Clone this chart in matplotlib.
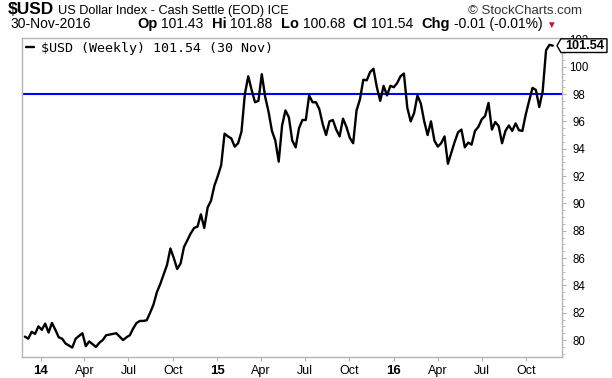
import numpy as np
import pandas as pd
import matplotlib
matplotlib.use("Agg")
import matplotlib.pyplot as plt
from matplotlib.patches import Polygon

# Weekly closes of $USD (Dec 2013 .. 30 Nov 2016)
usd_close = [
    80.25, 80.1, 80.6, 80.45, 81.0, 80.75, 81.2, 80.55, 81.25, 80.75,
    80.2, 80.1, 79.75, 79.6, 79.45, 80.1, 80.3, 80.5, 79.55, 79.9,
    79.7, 79.5, 79.8, 80.0, 80.35, 80.4, 80.45, 80.5, 80.25, 80.0,
    80.2, 80.35, 80.85, 81.25, 81.4, 81.4, 81.45, 82.0, 82.6, 83.5,
    84.1, 84.8, 85.5, 86.7, 86.0, 85.2, 85.6, 86.8, 87.3, 87.8,
    88.2, 88.3, 89.2, 88.2, 89.7, 90.2, 91.3, 92.0, 92.8, 95.1,
    94.9, 94.75, 94.15, 94.4, 95.25, 98.0, 99.3, 98.3, 97.4, 97.5,
    99.45, 97.8, 96.7, 95.3, 94.6, 93.05, 95.7, 96.8, 96.3, 94.6,
    94.1, 95.5, 96.1, 96.1, 97.9, 97.4, 97.4, 96.9, 95.8, 95.0,
    96.0, 96.1, 95.4, 94.9, 96.2, 95.6, 94.8, 94.4, 96.8, 97.6,
    99.05, 99.0, 99.6, 99.85, 98.5, 97.5, 98.6, 97.9, 98.6, 98.5,
    98.8, 99.3, 99.5, 97.0, 96.0, 96.6, 97.9, 97.3, 96.0, 95.0,
    96.0, 94.6, 94.15, 94.4, 94.9, 92.9, 93.7, 94.5, 95.2, 95.4,
    94.1, 94.45, 94.3, 95.3, 95.6, 96.15, 96.4, 97.35, 95.4, 95.95,
    95.65, 94.4, 95.3, 95.7, 95.3, 95.85, 95.35, 95.3, 96.5, 97.5,
    98.45, 98.3, 97.05, 98.2, 101.2, 101.6, 101.54,
]
weeks = pd.date_range("2013-11-29", periods=len(usd_close), freq="7D")

ref_level = 98.0
last_close = 101.54
y_ticks = list(range(80, 103, 2))
tick_dates = pd.date_range("2014-01-01", "2016-10-01", freq="QS")
tick_labels = ["14", "Apr", "Jul", "Oct", "15", "Apr", "Jul", "Oct",
               "16", "Apr", "Jul", "Oct"]

symbol = "$USD"
title = "US Dollar Index - Cash Settle (EOD) ICE"
as_of = "30-Nov-2016"
quote = [("Op", "101.43"), ("Hi", "101.88"), ("Lo", "100.68"),
         ("Cl", "101.54"), ("Chg", "-0.01 (-0.01%)")]
legend_label = "$USD (Weekly) 101.54 (30 Nov)"

plt.rcParams["font.family"] = ["Liberation Sans", "DejaVu Sans"]
grey = "#b4b4b4"

fig = plt.figure(figsize=(6.12, 3.78), dpi=100)
ax = fig.add_axes([22 / 612, 21 / 378, 540 / 612, 319 / 378])

line, = ax.plot(weeks, usd_close, color="black", lw=1.7,
                solid_joinstyle="round", solid_capstyle="round", zorder=3)
ax.axhline(ref_level, color="#0000ff", lw=1.5, zorder=2)

ax.set_xlim(pd.Timestamp("2013-11-23"), pd.Timestamp("2016-12-14"))
ax.set_ylim(78.76, 102.1)

ax.yaxis.tick_right()
ax.set_yticks(y_ticks)
ax.set_yticks(np.arange(79, 102.1, 0.5), minor=True)
ax.tick_params(axis="y", which="major", length=3, width=0.8, color=grey,
               pad=9, labelsize=8.3)
ax.tick_params(axis="y", which="minor", length=1.8, width=0.6, color=grey)
for t in ax.get_yticklabels():
    t.set_horizontalalignment("center")

ax.set_xticks(tick_dates)
ax.set_xticklabels(tick_labels)
ax.tick_params(axis="x", length=3, width=0.8, color=grey, pad=3,
               labelsize=9)
for t in ax.get_xticklabels():
    if t.get_text().isdigit():
        t.set_fontweight("bold")
        t.set_fontsize(9.5)

for s in ax.spines.values():
    s.set_color(grey)
    s.set_linewidth(1.0)

ax.legend([line], [legend_label], loc="upper left", bbox_to_anchor=(0, 1.0),
          frameon=False, handlelength=0.6, handletextpad=0.5,
          borderaxespad=0.05, borderpad=0.25,
          prop=dict(family="DejaVu Sans Mono", size=9.6))

# price tag on the right axis
tag_tr = ax.get_yaxis_transform()
tag = Polygon([(0.9907, last_close), (0.998, last_close + 0.5),
               (1.0833, last_close + 0.5), (1.0833, last_close - 0.5),
               (0.998, last_close - 0.5)], closed=True, transform=tag_tr,
              facecolor="white", edgecolor="black", lw=1.0, clip_on=False,
              zorder=10)
ax.add_patch(tag)
ax.text(1.0417, last_close, f"{last_close:.2f}", transform=tag_tr,
        ha="center", va="center", fontsize=9.2, fontweight="bold",
        clip_on=False, zorder=11)

# header: pieces laid out one after another, measured with the renderer
renderer = fig.canvas.get_renderer()


def chain(parts, x0, y0):
    x = x0
    for text, weight, size, color, gap in parts:
        x += gap
        t = fig.text(x / 612, y0 / 378, text, fontsize=size,
                     fontweight=weight, color=color, ha="left",
                     va="baseline")
        x = t.get_window_extent(renderer).x1
    return x


chain([(symbol, "bold", 12.5, "black", 0),
       (title, "normal", 9.2, "black", 4)], 8, 364)
fig.text(582 / 612, 364 / 378, "\u00a9 StockCharts.com", ha="right",
         va="baseline", fontsize=9.5, color="#333333")

parts = []
for i, (k, v) in enumerate(quote):
    parts.append((k, "bold", 10.5, "black", 0 if i == 0 else 8))
    parts.append((v, "normal", 10, "black", 4))
parts.append(("\u25bc", "normal", 7, "#c8102e", 3))
chain(parts, 137, 350)
fig.text(10 / 612, 350 / 378, as_of, ha="left", va="baseline", fontsize=10)

fig.savefig("out.png", dpi=100, facecolor="white")
